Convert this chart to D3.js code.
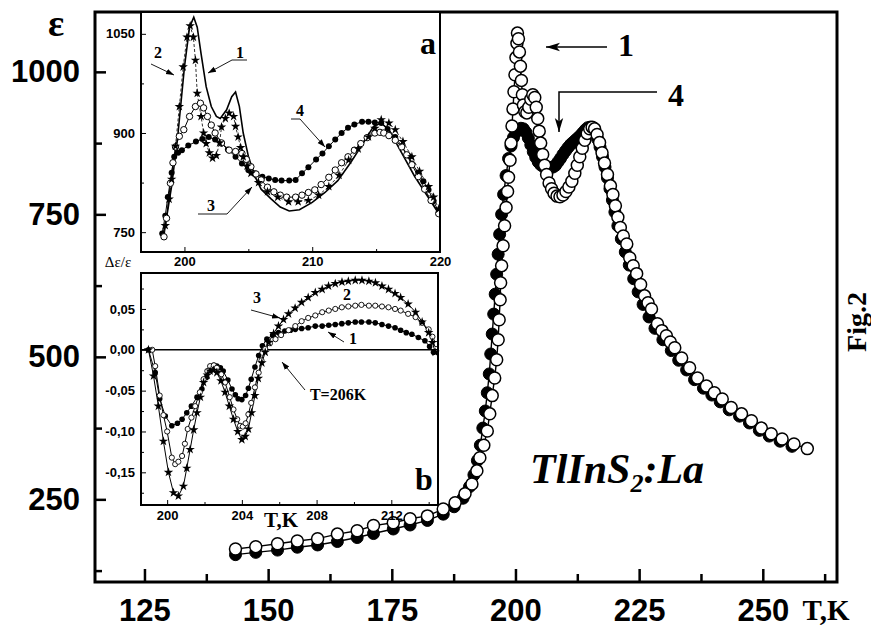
<!DOCTYPE html>
<html><head><meta charset="utf-8">
<script src="https://cdn.jsdelivr.net/npm/d3@7"></script>
<style>body{margin:0;background:#fff}svg{display:block}</style>
</head><body>
<script>
// ---------- DATA ----------
// Main plot: epsilon vs T (K), curve 1 (open circles) and curve 4 (filled circles)
const main1 = [[143.4,163],[147.5,167],[151.9,172],[155.9,177],[160.0,181],[164.0,189],[168.0,195],[171.3,204],[175.3,209],[178.7,216],[182.2,221],[185.4,233],[187.8,244],[189.8,260],[191.2,277],[192.2,300],[192.8,323],[193.6,345],[194.3,370],[194.8,400],[195.3,432],[195.8,463],[196.2,495],[196.5,530],[196.7,565],[196.9,600],[197.0,630],[197.2,660],[197.5,695],[197.8,730],[198.1,762],[198.4,790],[198.6,815],[198.9,845],[199.1,875],[199.3,905],[199.5,935],[199.7,965],[199.9,995],[200.1,1025],[200.3,1050],[200.4,1068],[200.6,1058],[200.8,1035],[201.0,1010],[201.2,985],[201.4,960],[201.6,942],[201.9,930],[202.3,928],[202.7,938],[203.1,952],[203.5,960],[203.9,955],[204.2,938],[204.5,918],[204.8,896],[205.1,875],[205.5,855],[205.9,836],[206.3,820],[206.8,805],[207.3,795],[207.8,787],[208.4,782],[209.0,781],[209.6,784],[210.2,790],[210.8,798],[211.4,808],[212.0,822],[212.5,836],[213.0,851],[213.5,866],[214.0,880],[214.5,892],[215.0,900],[215.5,903],[216.0,900],[216.5,890],[217.0,876],[217.5,858],[218.0,840],[218.6,820],[219.2,800],[219.7,785],[220.2,765],[220.7,745],[221.2,727],[221.8,712],[222.5,698],[223.1,674],[223.8,660],[224.5,646],[225.3,627],[226.1,607],[226.8,595],[227.5,584],[228.7,558],[229.6,546],[230.5,537],[231.3,526],[232.2,516],[233.6,498],[235.2,481],[236.8,463],[238.6,449],[240.2,437],[241.8,426],[243.6,411],[245.7,400],[247.7,388],[249.7,375],[251.7,365],[253.9,356],[256.3,347],[259.0,339]];
const main4 = [[143.4,153],[147.5,157],[151.9,161],[155.9,166],[160.0,170],[164.0,176],[168.0,183],[171.3,190],[175.3,198],[178.7,205],[182.2,213],[185.4,224],[187.6,237],[189.4,252],[190.7,272],[191.6,293],[192.3,318],[192.9,345],[193.4,375],[193.9,405],[194.3,437],[194.7,470],[195.0,505],[195.3,540],[195.6,575],[195.9,610],[196.2,645],[196.5,680],[196.8,715],[197.2,750],[197.6,785],[198.1,818],[198.6,848],[199.1,870],[199.6,885],[200.1,894],[200.6,899],[201.1,901],[201.6,900],[202.1,894],[202.6,884],[203.1,872],[203.6,860],[204.1,850],[204.6,842],[205.1,837],[205.6,834],[206.1,833],[206.6,832],[207.1,832],[207.6,833],[208.1,836],[208.6,842],[209.1,848],[209.6,855],[210.1,861],[210.6,867],[211.1,872],[211.6,876],[212.1,880],[212.6,884],[213.1,888],[213.6,893],[214.1,898],[214.6,902],[215.1,903],[215.6,900],[216.1,893],[216.6,882],[217.1,868],[217.6,851],[218.1,833],[218.6,814],[219.1,795],[219.6,775],[220.1,754],[220.7,730],[221.4,707],[222.2,684],[223.0,661],[223.9,637],[224.8,614],[225.8,592],[227.0,570],[228.2,550],[229.8,530],[231.5,511],[233.0,494],[234.6,477],[236.2,460],[238.0,445],[239.7,433],[241.4,421],[243.2,407],[245.3,396],[247.3,384],[249.3,371],[251.3,361],[253.5,352],[255.9,343]];
const mainXTicks = [125,150,175,200,225,250];
const mainXMinor = [137.5,162.5,187.5,212.5,237.5,262.5];
const mainYTicks = [250,500,750,1000];
const mainYMinor = [125,375,625,875];

// Inset a: epsilon vs T, curves 1 (line), 2 (stars), 3 (open), 4 (filled)
const a1 = [[198.3,745],[198.5,760],[199.0,820],[199.5,900],[200.0,1000],[200.4,1060],[200.73,1075],[201.0,1060],[201.3,1020],[201.7,970],[202.1,940],[202.5,925],[202.8,922],[203.3,935],[203.7,955],[204.0,962],[204.3,940],[204.6,900],[205.0,865],[205.5,835],[206.0,815],[206.8,800],[207.5,788],[208.2,782],[209.0,784],[210.0,795],[211.0,810],[212.0,828],[213.0,855],[214.0,885],[214.8,910],[215.4,915],[216.0,905],[217.0,870],[218.0,835],[219.0,805],[220.0,775]];
const a2 = [[198.5,760],[198.8,800],[199.0,830],[199.3,880],[199.6,940],[199.9,1000],[200.2,1045],[200.45,1062],[200.7,1045],[200.86,1010],[201.0,960],[201.3,925],[201.5,900],[201.7,884],[201.95,870],[202.2,862],[202.5,866],[202.75,885],[202.9,909],[203.2,922],[203.5,930],[203.85,925],[204.0,910],[204.2,894],[204.4,878],[204.6,864],[204.9,850],[205.2,839],[205.8,825],[206.5,811],[207.3,803],[208.15,796],[208.9,796],[209.7,798],[210.5,806],[211.3,819],[212.1,836],[212.85,859],[213.6,876],[214.4,894],[214.9,907],[215.4,920],[216.0,915],[216.5,905],[217.1,887],[217.8,864],[218.4,842],[219.1,819],[219.5,803],[219.9,785]];
const a3 = [[198.4,743],[198.6,771],[198.9,824],[199.1,855],[199.3,879],[199.6,895],[199.95,905],[200.4,925],[200.86,940],[201.25,945],[201.5,938],[201.8,925],[202.1,912],[202.4,900],[202.9,885],[203.5,874],[204.0,872],[204.5,869],[204.85,860],[205.2,849],[205.6,838],[206.0,829],[206.5,818],[207.0,811],[207.5,806],[208.0,803],[208.7,803],[209.2,806],[209.7,810],[210.2,814],[210.7,822],[211.3,833],[211.8,844],[212.3,855],[212.8,864],[213.3,874],[213.8,884],[214.3,893],[214.9,900],[215.3,901],[215.6,900],[216.0,896],[216.5,889],[217.0,879],[217.4,867],[217.8,852],[218.3,834],[218.8,815],[219.3,798],[219.9,778]];
const a4 = [[198.26,748],[198.5,775],[198.7,803],[199.0,840],[199.2,864],[199.5,870],[199.8,874],[200.3,881],[200.9,887],[201.4,891],[201.9,894],[202.4,890],[202.9,884],[203.4,875],[204.0,864],[204.5,854],[205.0,844],[205.5,839],[206.1,834],[206.6,831],[207.1,829],[207.6,828],[208.2,828],[208.7,829],[209.2,839],[209.7,848],[210.3,860],[210.8,869],[211.3,880],[211.8,890],[212.3,900],[212.8,908],[213.3,913],[213.9,917],[214.4,917],[214.9,916],[215.4,915],[215.9,906],[216.5,894],[217.0,880],[217.5,866],[217.8,854],[218.3,840],[218.7,827],[219.1,814],[219.5,797],[219.9,780]];
const aXTicks = [200,210,220];
const aXMinor = [205,215];
const aYTicks = [750,900,1050];
const aYMinor = [825,975];

// Inset b: delta-eps/eps vs T, curves 1 (filled), 2 (open), 3 (stars)
const b1 = [[199.0,0],[199.36,-0.028],[199.6,-0.06],[199.9,-0.081],[200.25,-0.093],[200.55,-0.090],[200.8,-0.085],[201.05,-0.077],[201.3,-0.069],[201.6,-0.058],[201.86,-0.048],[202.1,-0.034],[202.3,-0.024],[202.5,-0.019],[202.66,-0.020],[202.85,-0.022],[203.0,-0.026],[203.25,-0.037],[203.47,-0.048],[203.65,-0.055],[203.8,-0.06],[204.0,-0.061],[204.2,-0.056],[204.35,-0.047],[204.5,-0.036],[204.7,-0.021],[204.9,-0.007],[205.1,0.005],[205.34,0.013],[205.65,0.018],[205.96,0.021],[206.3,0.023],[206.6,0.024],[206.86,0.025],[207.2,0.026],[207.55,0.027],[207.93,0.029],[208.3,0.029],[208.65,0.030],[209.0,0.031],[209.35,0.032],[209.7,0.033],[210.07,0.034],[210.4,0.034],[210.8,0.034],[211.14,0.033],[211.5,0.031],[211.85,0.029],[212.2,0.027],[212.5,0.024],[212.8,0.021],[213.1,0.019],[213.45,0.015],[213.8,0.011],[214.05,0.004],[214.26,-0.003]];
const b2 = [[199.2,0],[199.36,-0.02],[199.6,-0.056],[199.8,-0.08],[200.0,-0.10],[200.25,-0.132],[200.43,-0.14],[200.6,-0.137],[200.8,-0.13],[200.95,-0.115],[201.1,-0.097],[201.3,-0.083],[201.5,-0.069],[201.75,-0.052],[201.95,-0.036],[202.15,-0.026],[202.3,-0.020],[202.5,-0.019],[202.66,-0.022],[202.9,-0.030],[203.1,-0.040],[203.35,-0.058],[203.55,-0.073],[203.75,-0.085],[203.9,-0.093],[204.05,-0.094],[204.2,-0.09],[204.35,-0.079],[204.5,-0.065],[204.7,-0.046],[204.9,-0.028],[205.05,-0.013],[205.25,0.001],[205.5,0.008],[205.8,0.013],[206.1,0.018],[206.5,0.024],[206.86,0.029],[207.2,0.035],[207.55,0.039],[207.93,0.042],[208.3,0.046],[208.65,0.048],[209.0,0.050],[209.35,0.052],[209.7,0.053],[210.07,0.054],[210.4,0.055],[210.8,0.054],[211.14,0.054],[211.5,0.053],[211.85,0.052],[212.2,0.050],[212.5,0.048],[212.9,0.044],[213.3,0.040],[213.65,0.033],[214.0,0.025],[214.2,0.016],[214.4,0.007]];
const b3 = [[199.0,0],[199.27,-0.032],[199.53,-0.069],[199.8,-0.112],[200.07,-0.150],[200.34,-0.175],[200.6,-0.179],[200.87,-0.167],[201.05,-0.145],[201.23,-0.122],[201.42,-0.098],[201.6,-0.077],[201.78,-0.058],[201.95,-0.040],[202.15,-0.031],[202.3,-0.026],[202.48,-0.025],[202.66,-0.028],[202.88,-0.038],[203.1,-0.052],[203.33,-0.069],[203.55,-0.085],[203.78,-0.100],[204.0,-0.110],[204.18,-0.106],[204.35,-0.097],[204.52,-0.077],[204.7,-0.056],[204.88,-0.035],[205.07,-0.016],[205.25,-0.003],[205.43,0.009],[205.7,0.020],[205.96,0.029],[206.23,0.037],[206.5,0.044],[206.85,0.051],[207.2,0.058],[207.55,0.064],[207.93,0.070],[208.3,0.074],[208.64,0.078],[209.0,0.081],[209.36,0.083],[209.7,0.084],[210.07,0.085],[210.43,0.085],[210.8,0.084],[211.15,0.082],[211.5,0.078],[211.85,0.074],[212.2,0.069],[212.5,0.064],[212.9,0.056],[213.3,0.046],[213.65,0.034],[214.0,0.021],[214.2,0.009],[214.35,-0.003]];
const bXTicks = [200,204,208,212];
const bXMinor = [202,206,210,214];
const bYTicks = [-0.15,-0.10,-0.05,0,0.05];
const bYMinor = [-0.175,-0.125,-0.075,-0.025,0.025,0.075];

// ---------- DRAWING ----------
const W = 871, H = 629;
const SANS = "'Liberation Sans', Arial, sans-serif";
const SERIF = "'Liberation Serif', 'Times New Roman', serif";
const svg = d3.select("body").append("svg").attr("width", W).attr("height", H);
svg.append("rect").attr("width", W).attr("height", H).attr("fill", "#fff");

const defs = svg.append("defs");
defs.append("marker").attr("id","arr").attr("viewBox","0 0 10 10").attr("refX",10).attr("refY",5)
  .attr("markerWidth",8).attr("markerHeight",8).attr("orient","auto").attr("markerUnits","userSpaceOnUse")
  .append("path").attr("d","M0,1.5 L10,5 L0,8.5 Z").attr("fill","#000");
defs.append("marker").attr("id","arrBig").attr("viewBox","0 0 10 10").attr("refX",10).attr("refY",5)
  .attr("markerWidth",14).attr("markerHeight",14).attr("orient","auto").attr("markerUnits","userSpaceOnUse")
  .append("path").attr("d","M0,2 L10,5 L0,8 L2.5,5 Z").attr("fill","#000");

// main scales
const x = d3.scaleLinear().domain([115, 265]).range([95, 837]);
const y = d3.scaleLinear().domain([105, 1105]).range([582, 12]);

function styleAxis(g, fontSize, family, weight) {
  g.select(".domain").remove();
  g.selectAll(".tick line").attr("stroke", "#000");
  g.selectAll(".tick text").attr("font-family", family).attr("font-size", fontSize)
    .attr("font-weight", weight).attr("fill", "#000");
}

// main axes
const gx = svg.append("g").attr("transform", "translate(0,582)")
  .call(d3.axisBottom(x).tickValues(mainXTicks).tickSizeInner(-13).tickSizeOuter(0).tickPadding(17).tickFormat(d3.format("d")));
styleAxis(gx, 31, SANS, "bold"); gx.selectAll(".tick line").attr("stroke-width", 2.5);
const gxm = svg.append("g").attr("transform", "translate(0,582)")
  .call(d3.axisBottom(x).tickValues(mainXMinor).tickSizeInner(-8).tickSizeOuter(0).tickFormat(""));
styleAxis(gxm, 1, SANS, "normal"); gxm.selectAll(".tick line").attr("stroke-width", 2.5);

const gy = svg.append("g").attr("transform", "translate(95,0)")
  .call(d3.axisLeft(y).tickValues(mainYTicks).tickSizeInner(-11).tickSizeOuter(0).tickPadding(15).tickFormat(d3.format("d")));
styleAxis(gy, 31, SANS, "bold"); gy.selectAll(".tick line").attr("stroke-width", 2.5);
const gym = svg.append("g").attr("transform", "translate(95,0)")
  .call(d3.axisLeft(y).tickValues(mainYMinor).tickSizeInner(-7).tickSizeOuter(0).tickFormat(""));
styleAxis(gym, 1, SANS, "normal"); gym.selectAll(".tick line").attr("stroke-width", 2.5);

// main series
const lineMain = d3.line().x(d => x(d[0])).y(d => y(d[1]));
svg.append("path").datum(main4).attr("d", lineMain).attr("fill","none").attr("stroke","#000").attr("stroke-width",1.4);
svg.append("path").datum(main1).attr("d", lineMain).attr("fill","none").attr("stroke","#000").attr("stroke-width",1.4);
svg.append("g").selectAll("circle").data(main4).join("circle")
  .attr("cx", d => x(d[0])).attr("cy", d => y(d[1])).attr("r", 6)
  .attr("fill","#000").attr("stroke","#000").attr("stroke-width",1);
svg.append("g").selectAll("circle").data(main1).join("circle")
  .attr("cx", d => x(d[0])).attr("cy", d => y(d[1])).attr("r", 6)
  .attr("fill","#fff").attr("stroke","#000").attr("stroke-width",1.5);

// main frame
svg.append("rect").attr("x",95).attr("y",12).attr("width",742).attr("height",570)
  .attr("fill","none").attr("stroke","#000").attr("stroke-width",3);

// main labels
svg.append("text").attr("x",56).attr("y",36).attr("text-anchor","middle")
  .attr("font-family",SERIF).attr("font-weight","bold").attr("font-size",38).text("ε");
svg.append("text").attr("x",826).attr("y",620).attr("text-anchor","middle")
  .attr("font-family",SERIF).attr("font-weight","bold").attr("font-size",29).text("T,K");
svg.append("text").attr("transform","translate(866,322) rotate(-90)").attr("text-anchor","middle")
  .attr("font-family",SERIF).attr("font-weight","bold").attr("font-size",28).text("Fig.2");
const formula = svg.append("text").attr("x",530).attr("y",483)
  .attr("font-family",SERIF).attr("font-weight","bold").attr("font-style","italic").attr("font-size",42);
formula.append("tspan").text("TlInS");
formula.append("tspan").attr("font-size",26).attr("dy",9).text("2");
formula.append("tspan").attr("dy",-9).text(":La");

// main annotations
svg.append("text").attr("x",626).attr("y",56).attr("text-anchor","middle")
  .attr("font-family",SERIF).attr("font-weight","bold").attr("font-size",32).text("1");
svg.append("line").attr("x1",607).attr("y1",47).attr("x2",546).attr("y2",47)
  .attr("stroke","#000").attr("stroke-width",1.5).attr("marker-end","url(#arrBig)");
svg.append("text").attr("x",676).attr("y",106).attr("text-anchor","middle")
  .attr("font-family",SERIF).attr("font-weight","bold").attr("font-size",32).text("4");
svg.append("path").attr("d","M657,92 L559,92 L559,132").attr("fill","none")
  .attr("stroke","#000").attr("stroke-width",1.5).attr("marker-end","url(#arrBig)");

// ---------- INSET A ----------
const xa = d3.scaleLinear().domain([196.6, 220]).range([141, 440]);
const ya = d3.scaleLinear().domain([720, 1083]).range([252, 12]);
const ia = svg.append("g");
ia.append("rect").attr("x",141).attr("y",12).attr("width",299).attr("height",240).attr("fill","#fff");
const clipA = defs.append("clipPath").attr("id","clipA");
clipA.append("rect").attr("x",141).attr("y",12).attr("width",299).attr("height",240);
const gaData = ia.append("g").attr("clip-path","url(#clipA)");
const lineA = d3.line().x(d => xa(d[0])).y(d => ya(d[1]));
gaData.append("path").datum(a4).attr("d",lineA).attr("fill","none").attr("stroke","#000").attr("stroke-width",1);
gaData.append("path").datum(a3).attr("d",lineA).attr("fill","none").attr("stroke","#000").attr("stroke-width",1);
gaData.append("path").datum(a2).attr("d",lineA).attr("fill","none").attr("stroke","#000").attr("stroke-width",0.8).attr("stroke-dasharray","3,2");
gaData.append("path").datum(a1).attr("d",lineA).attr("fill","none").attr("stroke","#000").attr("stroke-width",1.6);
gaData.selectAll(".a4").data(a4).join("circle").attr("class","a4").attr("cx",d=>xa(d[0])).attr("cy",d=>ya(d[1])).attr("r",3).attr("fill","#000");
gaData.selectAll(".a3").data(a3).join("circle").attr("class","a3").attr("cx",d=>xa(d[0])).attr("cy",d=>ya(d[1])).attr("r",3.2).attr("fill","#fff").attr("stroke","#000").attr("stroke-width",1);
const star = d3.symbol(d3.symbolStar, 28);
gaData.selectAll(".a2").data(a2).join("path").attr("class","a2").attr("d",star)
  .attr("transform",d=>`translate(${xa(d[0])},${ya(d[1])})`).attr("fill","#000");

const gax = ia.append("g").attr("transform","translate(0,252)")
  .call(d3.axisBottom(xa).tickValues(aXTicks).tickSizeInner(-5).tickSizeOuter(0).tickPadding(5).tickFormat(d3.format("d")));
styleAxis(gax, 13, SANS, "bold");
const gaxm = ia.append("g").attr("transform","translate(0,252)")
  .call(d3.axisBottom(xa).tickValues(aXMinor).tickSizeInner(-3).tickSizeOuter(0).tickFormat(""));
styleAxis(gaxm, 1, SANS, "normal");
const gay = ia.append("g").attr("transform","translate(141,0)")
  .call(d3.axisLeft(ya).tickValues(aYTicks).tickSizeInner(-5).tickSizeOuter(0).tickPadding(6).tickFormat(d3.format("d")));
styleAxis(gay, 13, SANS, "bold");
const gaym = ia.append("g").attr("transform","translate(141,0)")
  .call(d3.axisLeft(ya).tickValues(aYMinor).tickSizeInner(-3).tickSizeOuter(0).tickFormat(""));
styleAxis(gaym, 1, SANS, "normal");
ia.append("rect").attr("x",141).attr("y",12).attr("width",299).attr("height",240)
  .attr("fill","none").attr("stroke","#000").attr("stroke-width",2);

function lbl(g, tx, ty, t, size) {
  g.append("text").attr("x",tx).attr("y",ty).attr("text-anchor","middle")
    .attr("font-family",SERIF).attr("font-weight","bold").attr("font-size",size).text(t);
}
function arrowPath(g, d) {
  g.append("path").attr("d",d).attr("fill","none").attr("stroke","#000").attr("stroke-width",0.9).attr("marker-end","url(#arr)");
}
lbl(ia, 428, 54, "a", 32);
lbl(ia, 158, 58, "2", 16);
arrowPath(ia, "M151,64 L174,75");
lbl(ia, 240, 58, "1", 16);
arrowPath(ia, "M247,60 L232,60 L208,73");
lbl(ia, 300, 116, "4", 16);
arrowPath(ia, "M291,119 L300,119 L325,147");
lbl(ia, 211, 211, "3", 16);
arrowPath(ia, "M198,214 L227,214 L252,187");

svg.append("text").attr("x",118).attr("y",267).attr("text-anchor","middle")
  .attr("font-family",SERIF).attr("font-size",15).text("Δε/ε");

// ---------- INSET B ----------
const xb = d3.scaleLinear().domain([198.6, 214.5]).range([141, 438]);
const yb = d3.scaleLinear().domain([-0.19, 0.094]).range([505, 273]);
const ib = svg.append("g");
ib.append("rect").attr("x",141).attr("y",273).attr("width",297).attr("height",232).attr("fill","#fff");
ib.append("line").attr("x1",141).attr("x2",438).attr("y1",yb(0)).attr("y2",yb(0)).attr("stroke","#000").attr("stroke-width",1.5);
const lineB = d3.line().x(d => xb(d[0])).y(d => yb(d[1]));
ib.append("path").datum(b1).attr("d",lineB).attr("fill","none").attr("stroke","#000").attr("stroke-width",1);
ib.append("path").datum(b2).attr("d",lineB).attr("fill","none").attr("stroke","#000").attr("stroke-width",1);
ib.append("path").datum(b3).attr("d",lineB).attr("fill","none").attr("stroke","#000").attr("stroke-width",1);
ib.selectAll(".b1").data(b1).join("circle").attr("class","b1").attr("cx",d=>xb(d[0])).attr("cy",d=>yb(d[1])).attr("r",2.8).attr("fill","#000");
ib.selectAll(".b2").data(b2).join("circle").attr("class","b2").attr("cx",d=>xb(d[0])).attr("cy",d=>yb(d[1])).attr("r",2.6).attr("fill","#fff").attr("stroke","#000").attr("stroke-width",0.9);
ib.selectAll(".b3").data(b3).join("path").attr("class","b3").attr("d",star)
  .attr("transform",d=>`translate(${xb(d[0])},${yb(d[1])})`).attr("fill","#000");

const fmtB = v => (v < -1e-9 ? "-" : "") + Math.abs(v).toFixed(2).replace(".", ",");
const gbx = ib.append("g").attr("transform","translate(0,505)")
  .call(d3.axisBottom(xb).tickValues(bXTicks).tickSizeInner(-5).tickSizeOuter(0).tickPadding(6).tickFormat(d3.format("d")));
styleAxis(gbx, 13, SANS, "bold");
const gbxm = ib.append("g").attr("transform","translate(0,505)")
  .call(d3.axisBottom(xb).tickValues(bXMinor).tickSizeInner(-3).tickSizeOuter(0).tickFormat(""));
styleAxis(gbxm, 1, SANS, "normal");
const gby = ib.append("g").attr("transform","translate(141,0)")
  .call(d3.axisLeft(yb).tickValues(bYTicks).tickSizeInner(-5).tickSizeOuter(0).tickPadding(6).tickFormat(fmtB));
styleAxis(gby, 13, SANS, "bold");
const gbym = ib.append("g").attr("transform","translate(141,0)")
  .call(d3.axisLeft(yb).tickValues(bYMinor).tickSizeInner(-3).tickSizeOuter(0).tickFormat(""));
styleAxis(gbym, 1, SANS, "normal");
ib.append("rect").attr("x",141).attr("y",273).attr("width",297).attr("height",232)
  .attr("fill","none").attr("stroke","#000").attr("stroke-width",2);

lbl(ib, 424, 490, "b", 32);
lbl(ib, 281, 527, "T,K", 21);
lbl(ib, 257, 303, "3", 16);
arrowPath(ib, "M251,310 L280,318");
lbl(ib, 347, 300, "2", 16);
lbl(ib, 353, 344, "1", 16);
arrowPath(ib, "M344,342 L328,332");
lbl(ib, 338, 400, "T=206K", 16);
arrowPath(ib, "M305,390 L282,362");
</script>
</body></html>
